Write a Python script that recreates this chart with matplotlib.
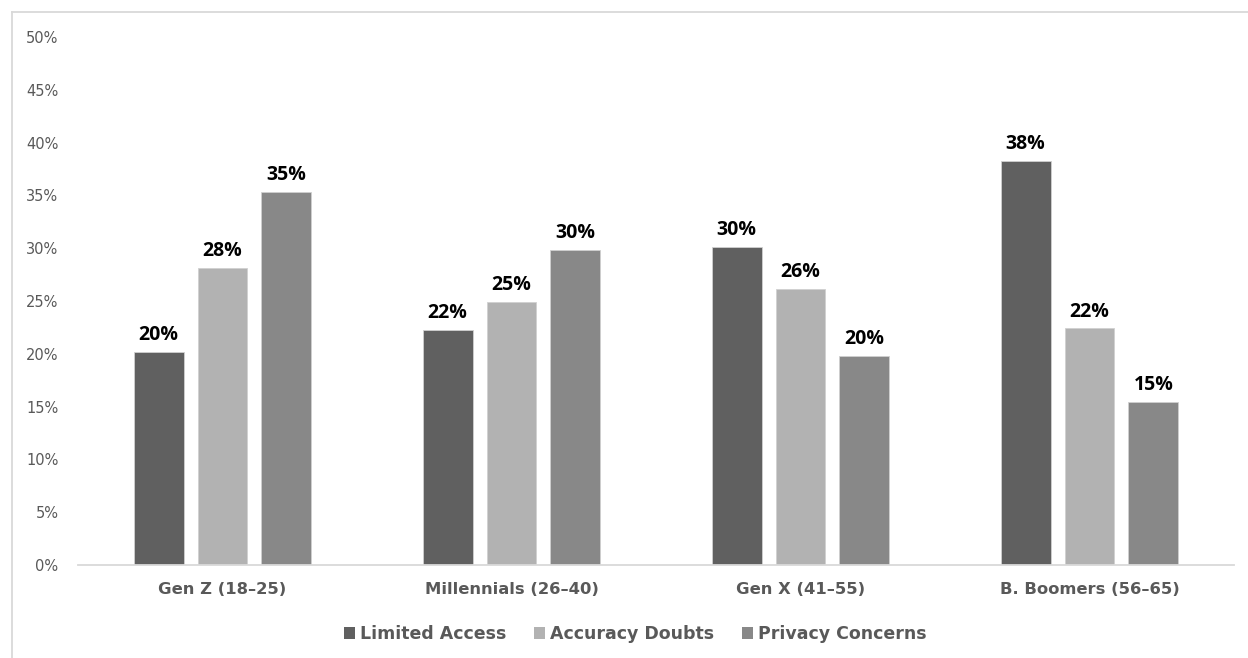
import matplotlib
matplotlib.use("Agg")
import matplotlib.pyplot as plt
from matplotlib.lines import Line2D
from matplotlib.patches import Patch
import numpy as np

categories = ["Gen Z (18\u201325)", "Millennials (26\u201340)", "Gen X (41\u201355)", "B. Boomers (56\u201365)"]
series_names = ["Limited Access", "Accuracy Doubts", "Privacy Concerns"]
limited_access = [20.2, 22.3, 30.1, 38.3]
accuracy_doubts = [28.1, 24.9, 26.1, 22.4]
privacy_concerns = [35.3, 29.8, 19.8, 15.4]
labels_limited = ["20%", "22%", "30%", "38%"]
labels_accuracy = ["28%", "25%", "26%", "22%"]
labels_privacy = ["35%", "30%", "20%", "15%"]
y_ticks = [0, 5, 10, 15, 20, 25, 30, 35, 40, 45, 50]
y_tick_labels = ["0%", "5%", "10%", "15%", "20%", "25%", "30%", "35%", "40%", "45%", "50%"]

colors = ["#606060", "#b2b2b2", "#888888"]
data = [limited_access, accuracy_doubts, privacy_concerns]
labels = [labels_limited, labels_accuracy, labels_privacy]

fig = plt.figure(figsize=(12.48, 6.58), dpi=100)
ax = fig.add_axes([78 / 1248, 1 - 565 / 658, (1234 - 78) / 1248, (565 - 37) / 658])

x = np.arange(len(categories))
offsets = [-0.221, 0.0, 0.221]
width = 0.173
for vals, lab, col, off, name in zip(data, labels, colors, offsets, series_names):
    bars = ax.bar(x + off, vals, width=width, color=col, edgecolor="#d0d0d0",
                  linewidth=0.6, label=name, zorder=2)
    for b, t in zip(bars, lab):
        ax.annotate(t, (b.get_x() + b.get_width() / 2, b.get_height()),
                    xytext=(0, 5), textcoords="offset points", ha="center", va="bottom",
                    fontsize=14, fontweight="bold", color="#000000", family="Open Sans")

ax.set_xlim(-0.5, len(categories) - 0.5)
ax.set_ylim(0, 50)
ax.set_yticks(y_ticks)
ax.set_yticklabels(y_tick_labels, family="DejaVu Sans", fontsize=10.5, color="#595959")
ax.set_xticks(x)
ax.set_xticklabels(categories, family="DejaVu Sans", fontsize=11.8, fontweight="bold", color="#595959")
ax.tick_params(axis="y", length=0, pad=14)
ax.tick_params(axis="x", length=0, pad=12)
for s in ["top", "right", "left"]:
    ax.spines[s].set_visible(False)
ax.spines["bottom"].set_color("#d9d9d9")
ax.spines["bottom"].set_linewidth(1.3)

handles = [Patch(facecolor=c, edgecolor="none") for c in colors]
leg = fig.legend(handles, series_names, loc="center", bbox_to_anchor=(0.509, 1 - 634 / 658),
                 ncol=3, frameon=False, handlelength=0.62, handleheight=0.62,
                 handletextpad=0.3, columnspacing=1.6,
                 prop={"family": "DejaVu Sans", "weight": "bold", "size": 12.5})
for t in leg.get_texts():
    t.set_color("#595959")

# outer chart border (left and top visible)
fig.add_artist(Line2D([12 / 1248, 12 / 1248], [0, 1 - 12 / 658], transform=fig.transFigure,
                      color="#d9d9d9", linewidth=1.3))
fig.add_artist(Line2D([12 / 1248, 1], [1 - 12 / 658, 1 - 12 / 658], transform=fig.transFigure,
                      color="#d9d9d9", linewidth=1.3))

fig.savefig("out.png", dpi=100, facecolor="white")
